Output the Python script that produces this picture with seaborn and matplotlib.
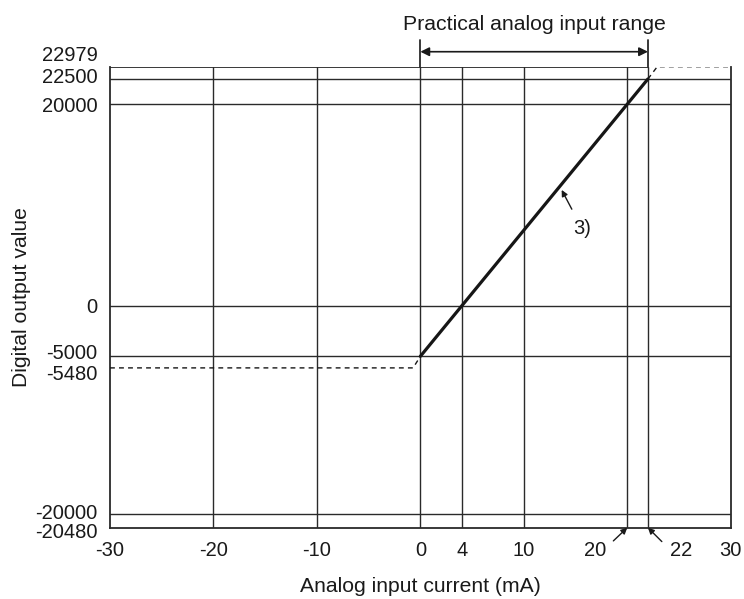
import numpy as np
import matplotlib
matplotlib.use("Agg")
import matplotlib.pyplot as plt
import matplotlib.transforms as mtransforms
import seaborn as sns

# data
x_ticks = [-30, -20, -10, 0, 4, 10, 20, 22, 30]
y_ticks = [-20480, -20000, -5480, -5000, 0, 20000, 22500, 22979]
y_grid = [-20000, -5000, 0, 20000, 22500]

conv_x = [0, 22]            # 3) converted range
conv_y = [-5000, 22500]
low_x = [-30, -0.7, 0]      # clipped below 0 mA
low_y = [-5480, -5480, -5000]
high_x = [22, 22.9, 30]     # clipped above 22 mA
high_y = [22500, 22979, 22979]
practical = [0, 22]

sns.set_theme(style="white")
plt.rcParams["font.family"] = ["Liberation Sans", "DejaVu Sans"]

# the drawing stretches the narrow bands near the limits
breaks = np.array([-1e6, -20480, -20000, -5480, -5000, 22500, 22979, 1e6])
stretch = np.array([1, 2.76, 1, 2.39, 1, 2.54, 1])
mapped = np.concatenate([[breaks[0]], breaks[0] + np.cumsum(np.diff(breaks) * stretch)])


def fwd(v):
    return np.interp(v, breaks, mapped)


def inv(v):
    return np.interp(v, mapped, breaks)


ink = "#2a2a2a"
fig = plt.figure(figsize=(7.44, 5.99), dpi=100)
ax = fig.add_axes([110 / 744, 71.3 / 599, 620.7 / 744, 461 / 599])
ax.set_yscale("function", functions=(fwd, inv))

for xv in x_ticks[1:-1]:
    ax.axvline(xv, color=ink, lw=1.0, zorder=1)
for yv in y_grid:
    ax.axhline(yv, color=ink, lw=1.0, zorder=1)
ax.plot([x_ticks[0], practical[1]], [y_ticks[-1], y_ticks[-1]], color=ink, lw=1.3, zorder=1)

sns.lineplot(x=conv_x, y=conv_y, ax=ax, color="#161616", lw=2.3, zorder=3)
sns.lineplot(x=low_x, y=low_y, ax=ax, color="#161616", lw=1.0, linestyle=(0, (3.5, 3)), zorder=3)
sns.lineplot(x=high_x, y=high_y, ax=ax, color="#161616", lw=1.0, linestyle=(0, (3.5, 3)), zorder=3)

ax.set_xlim(x_ticks[0], x_ticks[-1])
ax.set_ylim(y_ticks[0], y_ticks[-1])
ax.set_xticks(x_ticks)
ax.set_yticks(y_ticks)
ax.set_xticklabels([str(v) for v in x_ticks])
ax.set_yticklabels([str(v) for v in y_ticks])
ax.tick_params(axis="both", length=0, labelsize=14.5, colors="#1a1a1a")
ax.tick_params(axis="x", pad=9.5)
ax.tick_params(axis="y", pad=9)

for sp in ["left", "right", "bottom"]:
    ax.spines[sp].set_color(ink)
    ax.spines[sp].set_linewidth(1.3)
ax.spines["top"].set_visible(False)

# nudge crowded labels like the original drawing
y_shift = {22979: 13, 22500: 3, -5000: 5, -5480: -5, -20000: 3, -20480: -3}
for lab, val in zip(ax.get_yticklabels(), y_ticks):
    dy = y_shift.get(val, 0) * 0.72 / 72
    lab.set_transform(lab.get_transform() + mtransforms.ScaledTranslation(0, dy, fig.dpi_scale_trans))
x_shift = {20: -32, 22: 33}
for lab, val in zip(ax.get_xticklabels(), x_ticks):
    dx = x_shift.get(val, 0) * 0.72 / 72
    lab.set_transform(lab.get_transform() + mtransforms.ScaledTranslation(dx, 0, fig.dpi_scale_trans))

arrow = dict(arrowstyle="-|>", color="#1a1a1a", lw=1.0, mutation_scale=9, shrinkA=0, shrinkB=0)
ax.annotate("", xy=(20, 0), xycoords=("data", "axes fraction"), xytext=(-10, -9.5),
            textcoords="offset points", arrowprops=arrow, annotation_clip=False)
ax.annotate("", xy=(22, 0), xycoords=("data", "axes fraction"), xytext=(10, -10),
            textcoords="offset points", arrowprops=arrow, annotation_clip=False)
ax.annotate("3)", xy=(13.66, 11500), xytext=(14.5, -27.5), textcoords="offset points",
            fontsize=14.5, ha="center", va="center", color="#1a1a1a",
            arrowprops=dict(arrowstyle="-|>", color="#1a1a1a", lw=1.0, mutation_scale=9,
                            shrinkA=5, shrinkB=0))

# practical analog input range
tr = ax.get_xaxis_transform()
for xv in practical:
    ax.plot([xv, xv], [1.0, 1.058], transform=tr, color=ink, lw=1.3, clip_on=False)
ax.annotate("", xy=(practical[0], 1.0325), xytext=(practical[1], 1.0325), xycoords=tr, textcoords=tr,
            arrowprops=dict(arrowstyle="<|-|>", color="#1a1a1a", lw=1.2, mutation_scale=13,
                            shrinkA=0, shrinkB=0), annotation_clip=False)
ax.text(np.mean(practical), 1.092, "Practical analog input range", transform=tr,
        ha="center", va="center", fontsize=15.3, color="#1a1a1a")

ax.set_xlabel("Analog input current (mA)", fontsize=15.2, color="#1a1a1a")
ax.set_ylabel("Digital output value", fontsize=15.2, color="#1a1a1a")
ax.xaxis.set_label_coords(0.5, -0.107)
ax.yaxis.set_label_coords(-0.128, 0.5)

fig.savefig("out.png", dpi=100)
